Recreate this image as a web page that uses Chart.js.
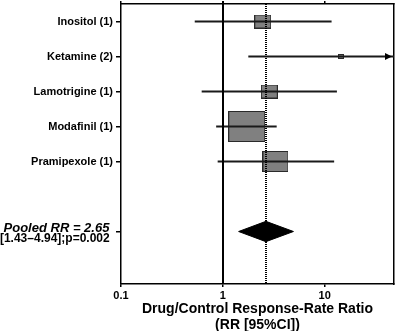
<!DOCTYPE html>
<html>
<head>
<meta charset="utf-8">
<script src="https://cdn.jsdelivr.net/npm/chart.js@4.4.1/dist/chart.umd.min.js"></script>
<style>
  html, body { margin: 0; padding: 0; background: #fff; }
  #wrap { width: 396px; height: 331px; }
</style>
</head>
<body>
<div id="wrap"><canvas id="forest"></canvas></div>
<script>
// Données
const studies = ['Inositol (1)', 'Ketamine (2)', 'Lamotrigine (1)', 'Modafinil (1)', 'Pramipexole (1)'];
const rr = [2.47, 14.5, 2.86, 1.72, 3.29];
const ciLow = [0.53, 1.78, 0.62, 0.86, 0.89];
const ciHigh = [11.7, 60, 13.2, 3.38, 12.4];
const weights = [11.1, 1.5, 11.1, 51.7, 24.6];   // poids relatifs (%)
const pooledRR = 2.65;
const pooledLow = 1.43;
const pooledHigh = 4.94;
const pooledLabel = ['Pooled RR = 2.65', '[1.43–4.94];p=0.002'];
const xTicks = [0.1, 1, 10];
const xTitle = ['Drug/Control Response-Rate Ratio', '(RR [95%CI])'];

// Mise en page
const X_MIN = 0.1, X_MAX = 48;
const Y_MIN = -0.5, Y_MAX = 7.5;
const pooledRow = studies.length + 1;
const DIAMOND_HALF = 0.29;
const FONT = "'Liberation Sans', Arial, Helvetica, sans-serif";
const yTickValues = studies.map((s, i) => i).concat([pooledRow, pooledRow - 0.1, pooledRow + 0.21]);
const yTickLabels = studies.concat(['', pooledLabel[0] + ' ', pooledLabel[1] + ' ']);

// Carré gris proportionnel au poids
const boxCache = {};
function makeBox(i) {
    if (boxCache[i]) return boxCache[i];
    const side = 5.15 * Math.sqrt(weights[i]);
    const w = Math.round(side), h = Math.round(side * 0.83);
    const c = document.createElement('canvas');
    c.width = w; c.height = h;
    const g = c.getContext('2d');
    g.fillStyle = '#808080';
    g.fillRect(0, 0, w, h);
    g.strokeStyle = '#2a2a2a';
    g.lineWidth = 1;
    g.strokeRect(0.5, 0.5, w - 1, h - 1);
    boxCache[i] = c;
    return c;
}

// Lignes verticales (RR = 1 et RR poolé) + flèches
const refLines = {
    id: 'refLines',
    afterDatasetsDraw(chart) {
        const {ctx, chartArea, scales} = chart;
        const x = scales.x, y = scales.y;
        ctx.save();
        ctx.strokeStyle = '#000';
        ctx.lineWidth = 2;
        let px = Math.round(x.getPixelForValue(1));
        ctx.beginPath();
        ctx.moveTo(px, chartArea.top - 3);
        ctx.lineTo(px, chartArea.bottom);
        ctx.stroke();

        ctx.setLineDash([1, 1]);
        px = Math.round(x.getPixelForValue(pooledRR));
        ctx.beginPath();
        ctx.moveTo(px, chartArea.top);
        ctx.lineTo(px, chartArea.bottom);
        ctx.stroke();
        ctx.setLineDash([]);

        ctx.fillStyle = '#000';
        ciHigh.forEach((hi, i) => {
            if (hi <= X_MAX) return;
            const py = y.getPixelForValue(i);
            const tip = chartArea.right - 2;
            ctx.beginPath();
            ctx.moveTo(tip, py);
            ctx.lineTo(tip - 7, py - 3.5);
            ctx.lineTo(tip - 7, py + 3.5);
            ctx.closePath();
            ctx.fill();
        });
        ctx.restore();
    }
};

const ciDatasets = studies.map((s, i) => ({
    type: 'scatter',
    label: s,
    data: [{x: ciLow[i], y: i}, {x: ciHigh[i], y: i}],
    showLine: true,
    borderColor: '#1a1a1a',
    borderWidth: 2,
    pointRadius: 0
}));

const estimates = {
    type: 'scatter',
    label: 'RR',
    data: rr.map((v, i) => ({x: v, y: i})),
    pointStyle: ctx => makeBox(ctx.dataIndex),
    pointRadius: 5
};

const diamond = {
    type: 'scatter',
    label: 'Pooled',
    data: [
        {x: pooledLow, y: pooledRow},
        {x: pooledRR, y: pooledRow - DIAMOND_HALF},
        {x: pooledHigh, y: pooledRow},
        {x: pooledRR, y: pooledRow + DIAMOND_HALF},
        {x: pooledLow, y: pooledRow}
    ],
    showLine: true,
    fill: 'shape',
    backgroundColor: '#000',
    borderColor: '#000',
    borderWidth: 1,
    pointRadius: 0
};

const logTicks = s => { s.ticks = xTicks.map(v => ({value: v})); };
// taille fixe des axes, sans marge automatique
const fixSize = (w, h) => s => {
    if (w !== null) s.width = w;
    if (h !== null) s.height = h;
    s.paddingTop = 0; s.paddingBottom = 0;
    s.paddingLeft = 0; s.paddingRight = 0;
};

new Chart(document.getElementById('forest'), {
    type: 'scatter',
    data: { datasets: ciDatasets.concat([estimates, diamond]) },
    options: {
        responsive: true,
        maintainAspectRatio: false,
        animation: false,
        layout: { padding: 0, autoPadding: false },
        plugins: { legend: { display: false }, tooltip: { enabled: false } },
        scales: {
            x: {
                type: 'logarithmic',
                position: 'bottom',
                min: X_MIN, max: X_MAX,
                afterBuildTicks: logTicks,
                afterFit: fixSize(null, 47),
                ticks: {
                    callback: v => String(v),
                    color: '#000',
                    font: { family: FONT, size: 11, weight: 'bold' },
                    padding: 2,
                    maxRotation: 0,
                    autoSkip: false
                },
                grid: { drawOnChartArea: false, tickLength: 3, color: '#000', lineWidth: 1.5 },
                border: { color: '#000', width: 1.5 },
                title: {
                    display: true,
                    text: xTitle,
                    color: '#000',
                    font: { family: FONT, size: 14, weight: 'bold', lineHeight: 16 / 14 },
                    padding: { top: 0, bottom: -2.5 }
                }
            },
            xTop: {
                type: 'logarithmic',
                position: 'top',
                min: X_MIN, max: X_MAX,
                afterBuildTicks: logTicks,
                afterFit: fixSize(null, 4),
                ticks: { display: false },
                grid: { drawOnChartArea: false, tickLength: 3, color: '#000', lineWidth: 1.5 },
                border: { color: '#000', width: 1.5 }
            },
            y: {
                type: 'linear',
                position: 'left',
                reverse: true,
                min: Y_MIN, max: Y_MAX,
                afterBuildTicks: s => { s.ticks = yTickValues.map(v => ({value: v})); },
                afterFit: fixSize(121, null),
                ticks: {
                    autoSkip: false,
                    padding: 3,
                    color: '#000',
                    callback: (v, i) => yTickLabels[i],
                    font: ctx => {
                        if (ctx.index === studies.length + 1) {
                            return { family: FONT, size: 13, weight: 'bold', style: 'italic' };
                        }
                        if (ctx.index === studies.length + 2) {
                            return { family: FONT, size: 12, weight: 'bold' };
                        }
                        return { family: FONT, size: 11, weight: 'bold' };
                    }
                },
                grid: {
                    drawOnChartArea: false,
                    tickLength: 5,
                    lineWidth: 1.5,
                    tickColor: ctx => ctx.index > studies.length ? 'rgba(0,0,0,0)' : '#000'
                },
                border: { color: '#000', width: 1.5 }
            },
            yRight: {
                type: 'linear',
                position: 'right',
                min: Y_MIN, max: Y_MAX,
                afterFit: fixSize(2, null),
                ticks: { display: false },
                grid: { drawOnChartArea: false, drawTicks: false },
                border: { color: '#000', width: 1.5 }
            }
        }
    },
    plugins: [refLines]
});
</script>
</body>
</html>
